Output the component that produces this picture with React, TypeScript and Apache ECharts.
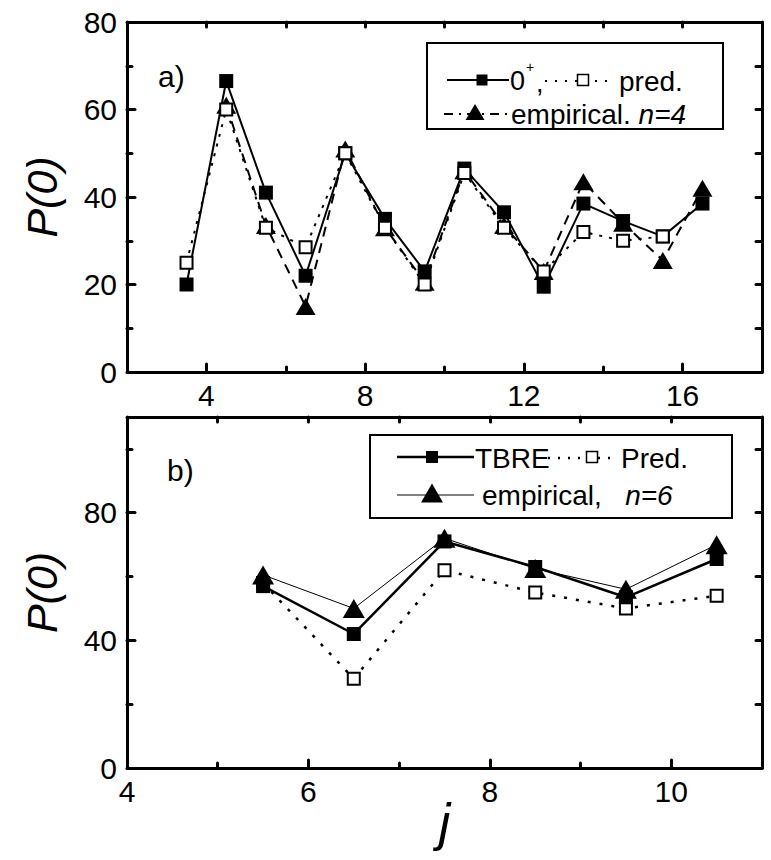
import React, { useEffect, useRef } from "react";
import * as echarts from "echarts";

const FONT = "'Liberation Sans', Arial, Helvetica, sans-serif";

// Panel a) — even-A nuclei, n = 4
const jTop = [3.5, 4.5, 5.5, 6.5, 7.5, 8.5, 9.5, 10.5, 11.5, 12.5, 13.5, 14.5, 15.5, 16.5];
const zeroPlus = [20, 66.5, 41, 22, 50, 35, 23, 46.5, 36.5, 19.5, 38.5, 34.5, 31, 38.5];
const predTop = [25, 60, 33, 28.5, 50, 33, 20, 45.5, 33, 23, 32, 30, 31];
const jEmpTop = [4.5, 5.5, 6.5, 7.5, 8.5, 9.5, 10.5, 11.5, 12.5, 13.5, 14.5, 15.5, 16.5];
const empTop = [61, 33.5, 15, 51, 33, 20.5, 46, 33.5, 23, 43.5, 34, 25.5, 42];

// Panel b) — n = 6
const jBot = [5.5, 6.5, 7.5, 8.5, 9.5, 10.5];
const tbre = [57, 42, 71, 63, 53.5, 65.5];
const predBot = [58, 28, 62, 55, 50, 54];
const empBot = [60.5, 50, 72, 62.5, 56, 70];

// Tick positions
const topXLabels = [4, 8, 12, 16];
const topXMinor = [6, 10, 14];
const topYLabels = [0, 20, 40, 60, 80];
const topYMajor = [20, 40, 60];
const topYMinor = [10, 30, 50, 70];
const botXLabels = [4, 6, 8, 10];
const botXMajor = [6, 8, 10];
const botXMinor = [5, 7, 9];
const botYLabels = [0, 40, 80];
const botYMajor = [40, 80];
const botYMinor = [20, 60, 100];

const zip = (xs: number[], ys: number[]) => ys.map((y, i) => [xs[i], y]);

const frameLine = { show: true, onZero: false, lineStyle: { color: "#000", width: 3 } };
const noLine = { show: false, onZero: false };
const tickStyle = (w: number) => ({ color: "#000", width: w, cap: "round" as const });
const labelStyle = { color: "#000", fontSize: 30, fontFamily: FONT };

function axis(
  kind: "x" | "y",
  grid: number,
  position: string,
  min: number,
  max: number,
  interval: number,
  opts: { line: boolean; ticks: number[]; tickLen: number; labels?: number[]; margin?: number; name?: object }
) {
  const a: any = {
    type: "value",
    gridIndex: grid,
    position,
    min,
    max,
    interval,
    axisLine: opts.line ? frameLine : noLine,
    axisTick: {
      show: true,
      inside: true,
      length: opts.tickLen,
      customValues: opts.ticks,
      lineStyle: tickStyle(3),
    },
    axisLabel: opts.labels
      ? { show: true, customValues: opts.labels, margin: opts.margin ?? 8, ...labelStyle }
      : { show: false },
    splitLine: { show: false },
  };
  if (opts.name) Object.assign(a, opts.name);
  return a;
}

const yName = {
  name: "P(0)",
  nameLocation: "middle",
  nameRotate: 90,
  nameGap: 64,
  nameMoveOverlap: false,
  nameTextStyle: { fontSize: 43, fontStyle: "italic", fontFamily: FONT, color: "#000" },
};
const xName = {
  name: "j",
  nameLocation: "middle",
  nameGap: 28,
  nameMoveOverlap: false,
  nameTextStyle: { fontSize: 52, fontStyle: "italic", fontFamily: FONT, color: "#000" },
};

const filledSq = { color: "#000" };
const openSq = { color: "#fff", borderColor: "#000", borderWidth: 2 };

function legendGraphics() {
  const txt = (x: number, y: number, text: string, size = 28, extra: object = {}) => ({
    type: "text",
    x,
    y,
    style: { text, font: `${size}px ${FONT}`, fill: "#000", align: "left", verticalAlign: "middle", ...extra },
  });
  const seg = (x1: number, x2: number, y: number, w: number, dash?: number[]) => ({
    type: "line",
    shape: { x1, y1: y, x2, y2: y },
    style: { stroke: "#000", lineWidth: w, lineDash: dash },
  });
  const sq = (cx: number, cy: number, s: number, open: boolean) => ({
    type: "rect",
    shape: { x: cx - s / 2, y: cy - s / 2, width: s, height: s },
    style: open ? { fill: "#fff", stroke: "#000", lineWidth: 1.5 } : { fill: "#000" },
  });
  const tri = (cx: number, cy: number, w: number, h: number) => ({
    type: "polygon",
    shape: { points: [[cx, cy - h / 2], [cx + w / 2, cy + h / 2], [cx - w / 2, cy + h / 2]] },
    style: { fill: "#000" },
  });
  const box = (x: number, y: number, w: number, h: number) => ({
    type: "rect",
    shape: { x, y, width: w, height: h },
    style: { fill: "#fff", stroke: "#000", lineWidth: 2 },
  });
  return [
    // panel labels
    txt(158, 76, "a)", 30),
    txt(167, 470, "b)", 30),
    // legend a)
    box(427, 43, 296, 86),
    seg(447, 509, 80, 2),
    sq(482, 80, 11, false),
    txt(510, 81, "0", 27),
    txt(526, 67, "+", 14),
    txt(536, 83, ",", 27),
    seg(545, 614, 81, 2, [2, 8]),
    sq(583, 80, 11, true),
    txt(619, 81, "pred.", 28),
    seg(444, 509, 114, 2, [9, 6, 2, 6]),
    tri(475, 112, 19, 16),
    {
      type: "text",
      x: 511,
      y: 114,
      style: {
        text: "{a|empirical. }{b|n=4}",
        fill: "#000",
        verticalAlign: "middle",
        rich: {
          a: { font: `28px ${FONT}`, fill: "#000" },
          b: { font: `italic 28px ${FONT}`, fill: "#000" },
        },
      },
    },
    // legend b)
    box(370, 435, 362, 83),
    seg(397, 474, 457, 2.5),
    sq(432, 457, 12, false),
    txt(475, 458, "TBRE", 28),
    seg(548, 616, 458, 2.5, [2, 8]),
    sq(592, 457, 11, true),
    txt(621, 458, "Pred.", 28),
    seg(397, 474, 495, 1),
    tri(432, 493, 22, 19),
    {
      type: "text",
      x: 482,
      y: 495,
      style: {
        text: "{a|empirical,   }{b|n=6}",
        fill: "#000",
        verticalAlign: "middle",
        rich: {
          a: { font: `28px ${FONT}`, fill: "#000" },
          b: { font: `italic 28px ${FONT}`, fill: "#000" },
        },
      },
    },
  ];
}

export default function App() {
  const ref = useRef<HTMLDivElement>(null);

  useEffect(() => {
    document.body.style.margin = "0";
    if (!ref.current) return;
    const chart = echarts.init(ref.current, undefined, { renderer: "svg" });

    const option: any = {
      animation: false,
      backgroundColor: "#fff",
      grid: [
        { left: 127, top: 22, width: 635, height: 350 },
        { left: 127, top: 417, width: 635, height: 351 },
      ],
      xAxis: [
        axis("x", 0, "bottom", 2, 18, 2, { line: true, ticks: topXLabels, tickLen: 8, labels: topXLabels, margin: 8 }),
        axis("x", 0, "bottom", 2, 18, 2, { line: false, ticks: topXMinor, tickLen: 5 }),
        axis("x", 0, "top", 2, 18, 2, { line: true, ticks: [...topXLabels, ...topXMinor], tickLen: 5 }),
        axis("x", 1, "bottom", 4, 11, 1, { line: true, ticks: botXMajor, tickLen: 8, labels: botXLabels, margin: 8, name: xName }),
        axis("x", 1, "bottom", 4, 11, 1, { line: false, ticks: botXMinor, tickLen: 5 }),
        axis("x", 1, "top", 4, 11, 1, { line: true, ticks: [...botXMinor, ...botXMajor], tickLen: 5 }),
      ],
      yAxis: [
        axis("y", 0, "left", 0, 80, 10, { line: true, ticks: topYMajor, tickLen: 8, labels: topYLabels, margin: 10, name: yName }),
        axis("y", 0, "left", 0, 80, 10, { line: false, ticks: topYMinor, tickLen: 5 }),
        axis("y", 0, "right", 0, 80, 10, { line: true, ticks: [...topYMinor, ...topYMajor], tickLen: 6 }),
        axis("y", 1, "left", 0, 110, 10, { line: true, ticks: botYMajor, tickLen: 8, labels: botYLabels, margin: 10, name: yName }),
        axis("y", 1, "left", 0, 110, 10, { line: false, ticks: botYMinor, tickLen: 5 }),
        axis("y", 1, "right", 0, 110, 10, { line: true, ticks: [...botYMinor, ...botYMajor], tickLen: 6 }),
      ],
      series: [
        {
          name: "empirical. n=4",
          type: "line",
          xAxisIndex: 0,
          yAxisIndex: 0,
          data: zip(jEmpTop, empTop),
          symbol: "triangle",
          symbolSize: [20, 17],
          itemStyle: { color: "#000" },
          lineStyle: { color: "#000", width: 2, type: [10, 7] },
        },
        {
          name: "0+",
          type: "line",
          xAxisIndex: 0,
          yAxisIndex: 0,
          data: zip(jTop, zeroPlus),
          symbol: "rect",
          symbolSize: 14,
          itemStyle: filledSq,
          lineStyle: { color: "#000", width: 2 },
        },
        {
          name: "pred.",
          type: "line",
          xAxisIndex: 0,
          yAxisIndex: 0,
          data: zip(jTop, predTop),
          symbol: "rect",
          symbolSize: 12,
          itemStyle: openSq,
          lineStyle: { color: "#000", width: 2, type: [3, 7] },
        },
        {
          name: "Pred.",
          type: "line",
          xAxisIndex: 3,
          yAxisIndex: 3,
          data: zip(jBot, predBot),
          symbol: "rect",
          symbolSize: 12,
          itemStyle: openSq,
          lineStyle: { color: "#000", width: 2.5, type: [3, 9] },
        },
        {
          name: "TBRE",
          type: "line",
          xAxisIndex: 3,
          yAxisIndex: 3,
          data: zip(jBot, tbre),
          symbol: "rect",
          symbolSize: 14,
          itemStyle: filledSq,
          lineStyle: { color: "#000", width: 2.5 },
        },
        {
          name: "empirical, n=6",
          type: "line",
          xAxisIndex: 3,
          yAxisIndex: 3,
          data: zip(jBot, empBot),
          symbol: "triangle",
          symbolSize: [22, 19],
          itemStyle: { color: "#000" },
          lineStyle: { color: "#000", width: 1 },
        },
      ],
      graphic: legendGraphics(),
    };

    chart.setOption(option);
    return () => chart.dispose();
  }, []);

  return <div ref={ref} style={{ width: 771, height: 860 }} />;
}
